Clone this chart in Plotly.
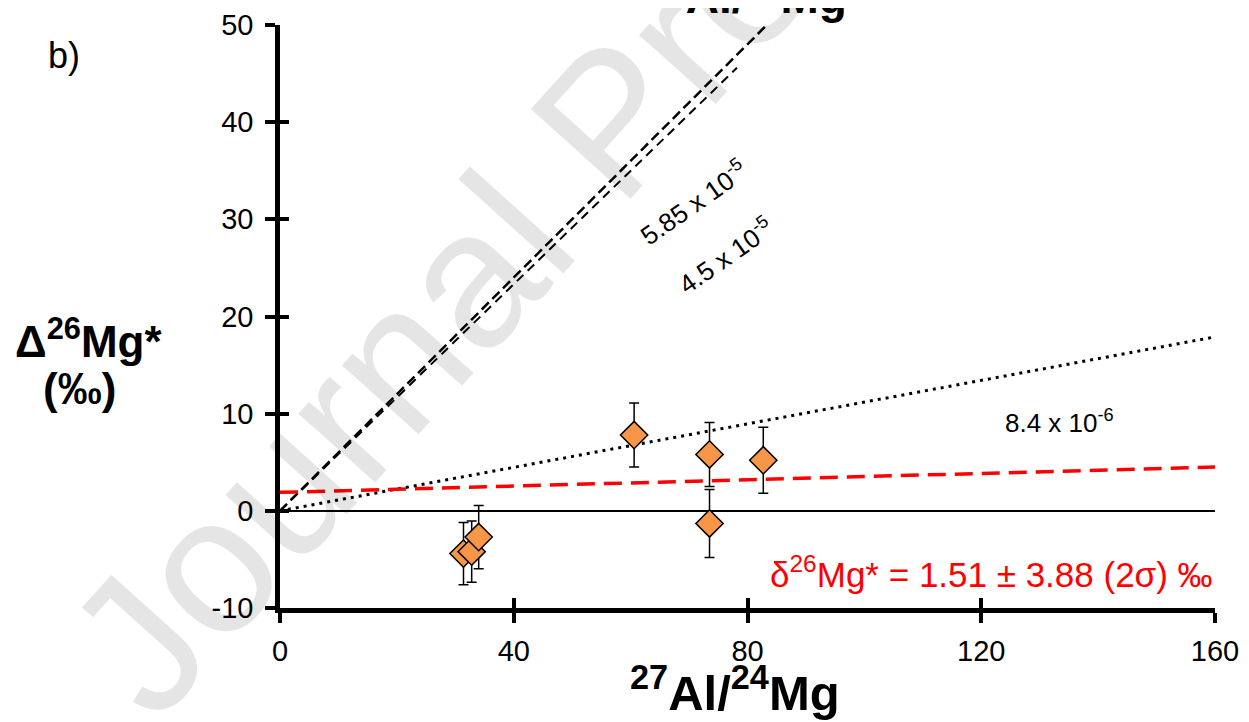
import plotly.graph_objects as go

# ---- data ----
al_mg = [60.6, 73.5, 82.7, 73.5, 31.4, 32.8, 34.0]
d26mg = [7.8, 5.8, 5.2, -1.3, -4.4, -4.2, -2.7]
d26mg_err = [3.3, 3.3, 3.4, 3.5, 3.2, 3.15, 3.25]

# reference isochron lines (x end points, y end points)
iso_585_x = [0, 83.3]
iso_585_y = [0, 50.0]
iso_45_x = [0, 78.2]
iso_45_y = [0, 45.6]
iso_84_x = [0, 160]
iso_84_y = [0, 17.9]
fit_x = [0, 160]
fit_y = [1.9, 4.5]

x_ticks = [0, 40, 80, 120, 160]
y_ticks = [-10, 0, 10, 20, 30, 40, 50]
y_tick_text = ["-10", "0", "10", "20", "30", "40", "50"]

fig = go.Figure()

fig.add_trace(go.Scatter(x=iso_585_x, y=iso_585_y, mode="lines",
                         line=dict(color="black", width=2.5, dash="10px,5px"),
                         hoverinfo="skip", showlegend=False))
fig.add_trace(go.Scatter(x=iso_45_x, y=iso_45_y, mode="lines",
                         line=dict(color="black", width=2, dash="9px,6px"),
                         hoverinfo="skip", showlegend=False))
fig.add_trace(go.Scatter(x=iso_84_x, y=iso_84_y, mode="lines",
                         line=dict(color="black", width=3, dash="3px,5px"),
                         hoverinfo="skip", showlegend=False))
fig.add_trace(go.Scatter(x=fit_x, y=fit_y, mode="lines",
                         line=dict(color="#FF0000", width=3.5, dash="18px,9px"),
                         hoverinfo="skip", showlegend=False))
fig.add_trace(go.Scatter(x=al_mg, y=d26mg, mode="markers",
                         marker=dict(symbol="diamond", size=21, color="#F79646",
                                     line=dict(color="black", width=1.5)),
                         error_y=dict(type="data", array=d26mg_err, color="black",
                                      thickness=1.5, width=5),
                         showlegend=False))
# empty trace to carry the overlay axes (inside tick halves)
fig.add_trace(go.Scatter(x=[None], y=[None], xaxis="x2", yaxis="y2",
                         mode="markers", showlegend=False, hoverinfo="skip"))

font_main = "Liberation Sans, Arial, sans-serif"
font_narrow = "Liberation Sans Narrow, Arial Narrow, Liberation Sans, Arial, sans-serif"

fig.update_layout(
    width=1241, height=714,
    margin=dict(l=272, r=34, t=17, b=114, autoexpand=False),
    paper_bgcolor="white", plot_bgcolor="white",
    xaxis=dict(range=[0, 160], tickvals=x_ticks, showgrid=False, zeroline=False,
               automargin=False,
               showline=True, linecolor="black", linewidth=4.5,
               ticks="outside", ticklen=10, tickwidth=4, tickcolor="black",
               ticklabelstandoff=3,
               tickfont=dict(family=font_narrow, size=29, color="black")),
    yaxis=dict(range=[-10, 50], tickvals=y_ticks, ticktext=y_tick_text,
               showgrid=False, automargin=False,
               zeroline=True, zerolinecolor="black", zerolinewidth=1.5,
               showline=True, linecolor="black", linewidth=4.5,
               ticks="outside", ticklen=10, tickwidth=4, tickcolor="black",
               ticklabelstandoff=6,
               tickfont=dict(family=font_main, size=29, color="black")),
    xaxis2=dict(range=[0, 160], tickvals=x_ticks, overlaying="x", anchor="y",
                side="bottom", showgrid=False, zeroline=False, showline=False,
                automargin=False,
                ticks="inside", ticklen=10, tickwidth=4, tickcolor="black",
                showticklabels=False),
    yaxis2=dict(range=[-10, 50], tickvals=y_ticks, overlaying="y", anchor="x",
                side="left", showgrid=False, zeroline=False, showline=False,
                automargin=False,
                ticks="inside", ticklen=9, tickwidth=4, tickcolor="black",
                showticklabels=False),
)

annotations = [
    # watermark (translucent so that black marks stay black beneath it)
    dict(text="Journal Pre-proof", xref="paper", yref="paper", x=0.352, y=0.835,
         xanchor="center", yanchor="middle", showarrow=False, textangle=-48,
         font=dict(family=font_main, size=195, color="rgba(0,0,0,0.1)")),
    # cut-off title at top
    dict(text="<b><sup>27</sup>Al/<sup>24</sup>Mg</b>", xref="paper", yref="paper",
         x=0.501, y=1.0, yshift=0, yanchor="bottom", xanchor="center", showarrow=False,
         font=dict(family=font_main, size=46, color="black")),
    dict(text="b)", xref="paper", yref="paper", x=-0.231, y=0.948,
         showarrow=False, xanchor="center", yanchor="middle",
         font=dict(family=font_main, size=36, color="black")),
    dict(text="<b>Δ<sup>26</sup>Mg*</b>", xref="paper", yref="paper", x=-0.205, y=0.463,
         showarrow=False, xanchor="center", yanchor="middle",
         font=dict(family=font_main, size=44, color="black")),
    dict(text="<b>(‰)</b>", xref="paper", yref="paper", x=-0.214, y=0.377,
         showarrow=False, xanchor="center", yanchor="middle",
         font=dict(family=font_main, size=44, color="black")),
    dict(text="<b><sup>27</sup>Al/<sup>24</sup>Mg</b>", xref="paper", yref="paper",
         x=0.487, y=-0.1955, yanchor="bottom", xanchor="center", showarrow=False,
         font=dict(family=font_narrow, size=49, color="black")),
    dict(text="5.85 x 10<sup>-5</sup>", xref="x", yref="y", x=70.7, y=31.7,
         xanchor="center", yanchor="middle", showarrow=False, textangle=-35,
         font=dict(family=font_main, size=26, color="black")),
    dict(text="4.5 x 10<sup>-5</sup>", xref="x", yref="y", x=76.2, y=26.3,
         xanchor="center", yanchor="middle", showarrow=False, textangle=-35,
         font=dict(family=font_main, size=26, color="black")),
    dict(text="8.4 x 10<sup>-6</sup>", xref="x", yref="y", x=133.4, y=9.2,
         xanchor="center", yanchor="middle", showarrow=False,
         font=dict(family=font_main, size=26, color="black")),
    dict(text="δ<sup>26</sup>Mg* = 1.51 ± 3.88 (2σ) ‰", xref="x", yref="y", x=160, y=-6.3,
         showarrow=False, xanchor="right", yanchor="middle",
         font=dict(family=font_main, size=35, color="#FF0000")),
]
fig.update_layout(annotations=annotations)

fig.write_html("out.html")
